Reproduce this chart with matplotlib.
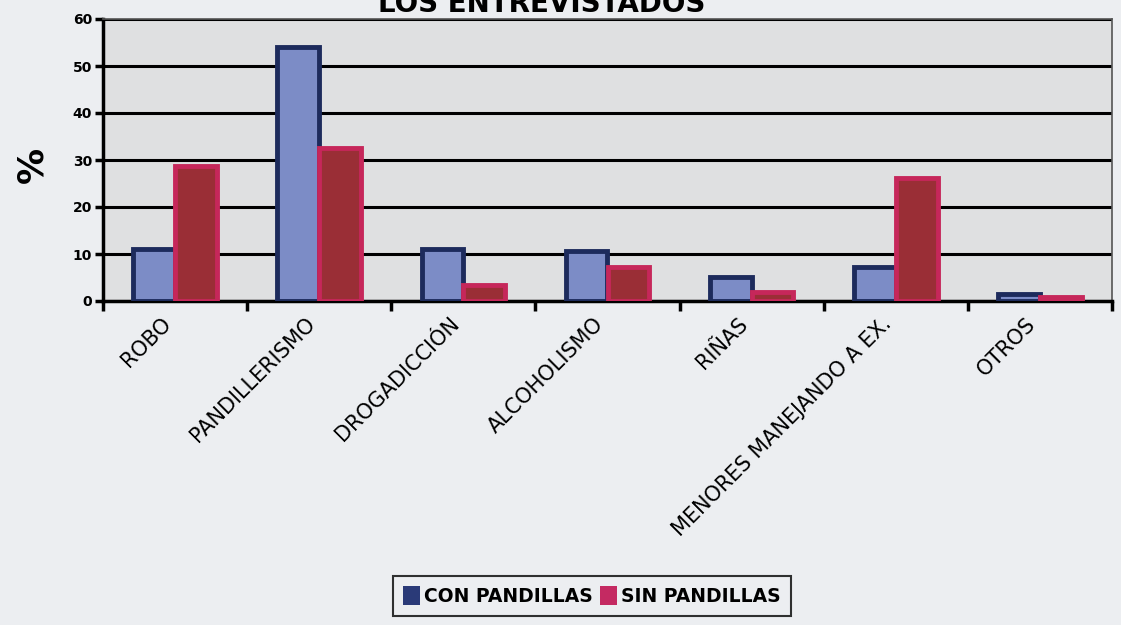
import matplotlib
matplotlib.use("Agg")
import matplotlib.pyplot as plt
import numpy as np
from matplotlib.patches import Patch

categories = ["ROBO", "PANDILLERISMO", "DROGADICCIÓN", "ALCOHOLISMO", "RIÑAS",
              "MENORES MANEJANDO A EX.", "OTROS"]
con_pandillas = [11, 54, 11, 10.7, 5.2, 7.3, 1.4]
sin_pandillas = [28.7, 32.5, 3.3, 7.2, 2.0, 26.2, 0.9]
yticks = [0, 10, 20, 30, 40, 50, 60]
series_labels = ["CON PANDILLAS", "SIN PANDILLAS"]
title = "LOS ENTREVISTADOS"

W, H = 1121, 625
fig = plt.figure(figsize=(W / 100, H / 100), dpi=100)
fig.patch.set_facecolor("#eceef1")

ax = fig.add_axes([103 / W, 1 - 301 / H, (1112 - 103) / W, (301 - 19) / H])
ax.set_facecolor("#dfe0e1")

x = np.arange(len(categories))
bw = 0.29
ax.bar(x - bw / 2, con_pandillas, bw, color="#7c8cc6", edgecolor="#1d2b5c",
       linewidth=3.5, zorder=3)
ax.bar(x + bw / 2, sin_pandillas, bw, color="#9a2e36", edgecolor="#c6275a",
       linewidth=3.5, zorder=3)

ax.set_ylim(0, 60)
ax.set_xlim(-0.5, len(categories) - 0.5)
ax.set_yticks(yticks)
ax.set_yticklabels([str(t) for t in yticks], fontsize=10, fontweight="bold")
ax.yaxis.grid(True, color="black", linewidth=2.2, zorder=1)
ax.set_axisbelow(True)

ax.set_xticks(x - 0.1)
ax.set_xticklabels(categories, rotation=45, ha="right", va="top",
                   rotation_mode="anchor", fontsize=15)
ax.tick_params(axis="x", length=0, pad=9)
ax.set_xticks(np.arange(-0.5, len(categories), 1), minor=True)
ax.tick_params(axis="x", which="minor", length=7, width=2.5, color="black")
ax.tick_params(axis="y", length=6, width=2.5, color="black", pad=2)

for s in ["left", "bottom"]:
    ax.spines[s].set_linewidth(2.5)
    ax.spines[s].set_color("black")
for s in ["top", "right"]:
    ax.spines[s].set_linewidth(1.2)
    ax.spines[s].set_color("#555555")

fig.text(32 / W, 1 - 165 / H, "%", rotation=90, fontsize=26, fontweight="bold",
         ha="center", va="center")
fig.text(542 / W, 1 - 12 / H, title, fontsize=20, fontweight="bold",
         ha="center", va="baseline")

handles = [Patch(facecolor="#2a3a78", edgecolor="none"),
           Patch(facecolor="#c42a62", edgecolor="none")]
leg = fig.legend(handles, series_labels, loc="center", bbox_to_anchor=(592 / W, 1 - 596 / H),
                 ncol=2, prop={"weight": "bold", "size": 13.5}, frameon=True,
                 handlelength=0.9, handleheight=1.2, handletextpad=0.2,
                 columnspacing=0.4, borderpad=0.55, fancybox=False)
leg.get_frame().set_edgecolor("black")
leg.get_frame().set_linewidth(1.5)
leg.get_frame().set_facecolor("#eceef1")

fig.savefig("out.png", dpi=100, facecolor=fig.get_facecolor())
